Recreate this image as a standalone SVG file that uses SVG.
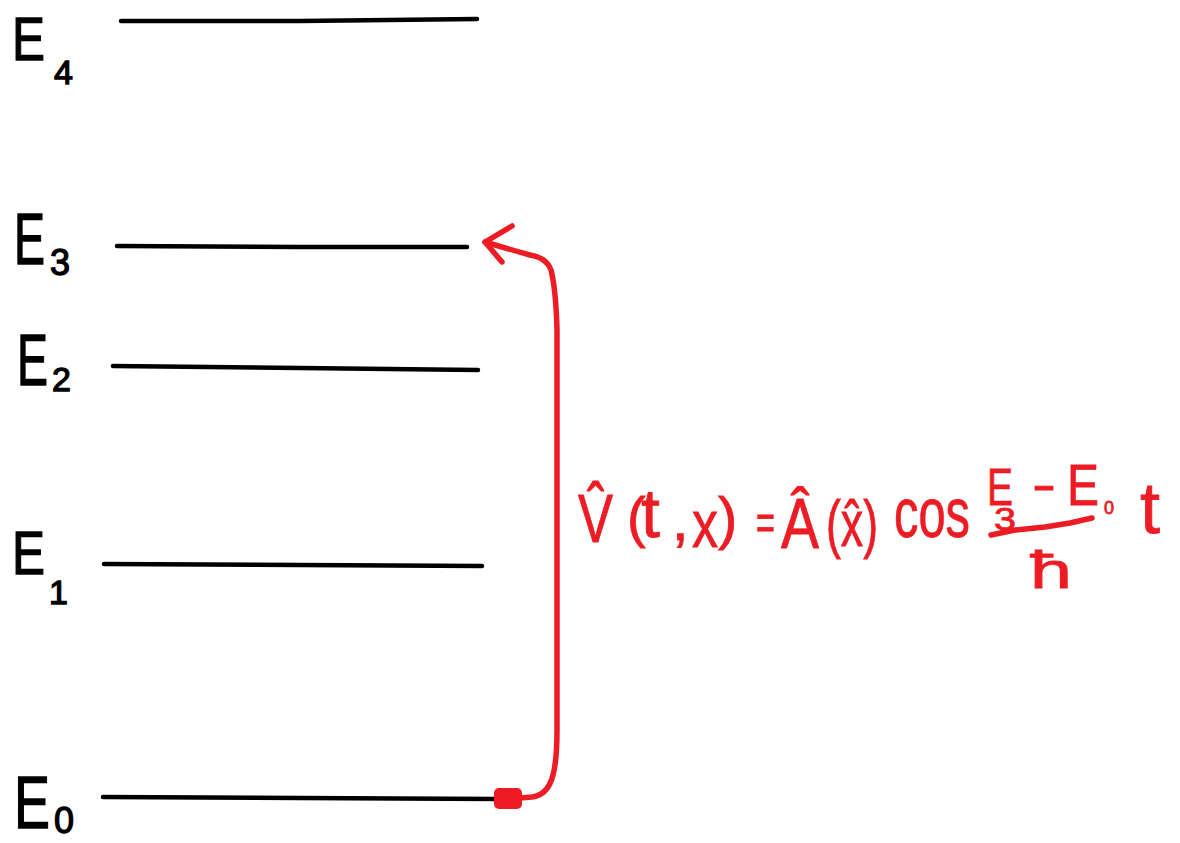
<svg xmlns="http://www.w3.org/2000/svg" width="1180" height="843" viewBox="0 0 1180 843">
<style>
.lvl{stroke:#000;stroke-width:4.5;stroke-linecap:round;fill:none}
.lbl{font-family:"Liberation Sans",Arial,sans-serif;fill:#000;stroke:#000;stroke-width:1.3}
.red{font-family:"Liberation Sans",Arial,sans-serif;fill:#ED1C24;stroke:#ED1C24;stroke-width:0.8}
.rl{stroke:#ED1C24;stroke-width:5.5;stroke-linecap:round;stroke-linejoin:round;fill:none}
</style>
<rect width="1180" height="843" fill="#fff"/>
<g id="E4">
<path class="lvl" d="M121 21 L300 21 L477 19"/>
<text class="lbl" x="12" y="60" font-size="62" textLength="33" lengthAdjust="spacingAndGlyphs">E</text>
<text class="lbl" x="54" y="84" font-size="34">4</text>
</g>
<g id="E3">
<path class="lvl" d="M117 246 L300 247 L467 247"/>
<text class="lbl" x="14" y="264" font-size="72" textLength="31" lengthAdjust="spacingAndGlyphs">E</text>
<text class="lbl" x="50" y="275" font-size="36">3</text>
</g>
<g id="E2">
<path class="lvl" d="M113 366 L300 368 L478 370"/>
<text class="lbl" x="17" y="385" font-size="72" textLength="31" lengthAdjust="spacingAndGlyphs">E</text>
<text class="lbl" x="52" y="391" font-size="34">2</text>
</g>
<g id="E1">
<path class="lvl" d="M104 564 L300 565 L482 566"/>
<text class="lbl" x="12" y="574" font-size="62" textLength="33" lengthAdjust="spacingAndGlyphs">E</text>
<text class="lbl" x="49" y="604" font-size="34">1</text>
</g>
<g id="E0">
<path class="lvl" d="M103 797 L300 798 L497 799"/>
<text class="lbl" x="14" y="828" font-size="74" textLength="36" lengthAdjust="spacingAndGlyphs">E</text>
<text class="lbl" x="54" y="833" font-size="36">0</text>
</g>
<g id="connectors">
<rect x="494" y="788" width="28" height="21" rx="5" fill="#ED1C24"/>
<path class="rl" d="M520 798 L532 797 Q548 795 553 775 Q557 760 557 730 L557 330 Q556 290 551 270 Q547 258 530 255 Q505 248 485 242"/>
<path class="rl" d="M512 226 L485 242 L502 262"/>
</g>
<g id="formula">
<text class="red" x="578" y="542" font-size="68" textLength="35" lengthAdjust="spacingAndGlyphs">V̂</text>
<text class="red" x="627" y="536" font-size="56">(</text>
<text class="red" x="641" y="537" font-size="68">t</text>
<text class="red" x="672" y="540" font-size="60">,</text>
<text class="red" x="692" y="547" font-size="66" textLength="26" lengthAdjust="spacingAndGlyphs">x</text>
<text class="red" x="718" y="538" font-size="58">)</text>
<text class="red" x="756" y="539" font-size="50" textLength="19" lengthAdjust="spacingAndGlyphs">=</text>
<text class="red" x="781" y="548" font-size="70" textLength="38" lengthAdjust="spacingAndGlyphs">Â</text>
<text class="red" x="826" y="546" font-size="64" textLength="52" lengthAdjust="spacingAndGlyphs">(x̂)</text>
<text class="red" x="894" y="537" font-size="70" textLength="76" lengthAdjust="spacingAndGlyphs">cos</text>
<text class="red" x="987" y="505" font-size="52" textLength="26" lengthAdjust="spacingAndGlyphs">E</text>
<text class="red" x="994" y="530" font-size="32" textLength="22" lengthAdjust="spacingAndGlyphs">3</text>
<text class="red" x="1032" y="501" font-size="48" textLength="24" lengthAdjust="spacingAndGlyphs">-</text>
<text class="red" x="1067" y="505" font-size="58" textLength="32" lengthAdjust="spacingAndGlyphs">E</text>
<text class="red" x="1104" y="514" font-size="18">0</text>
<text class="red" x="1140" y="533" font-size="72">t</text>
<path class="rl" d="M991 535 L1015 530 L1045 527 L1070 523 L1092 518"/>
<text class="red" x="1030" y="588" font-size="52" textLength="42" lengthAdjust="spacingAndGlyphs">ħ</text>
</g>
</svg>
